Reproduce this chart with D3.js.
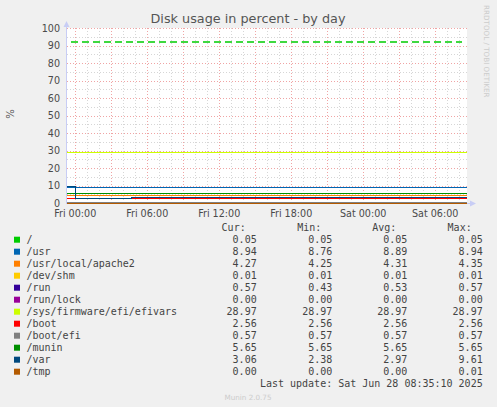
<!DOCTYPE html>
<html>
<head>
<meta charset="utf-8">
<script src="https://cdn.jsdelivr.net/npm/d3@7"></script>
<style>
  body { margin: 0; background: #f0f0f0; }
  svg { display: block; }
  .tick text { font-family: "DejaVu Sans", sans-serif; }
</style>
</head>
<body>
<div id="chart"></div>
<script>
// series names and colours (munin palette)
const seriesNames = ["/", "/usr", "/usr/local/apache2", "/dev/shm", "/run", "/run/lock",
    "/sys/firmware/efi/efivars", "/boot", "/boot/efi", "/munin", "/var", "/tmp"];
const seriesColors = ["#00CC00", "#0066B3", "#FF8000", "#FFCC00", "#330099", "#990099",
    "#CCFF00", "#FF0000", "#808080", "#008F00", "#00487D", "#B35A00"];

// legend numbers
const curVals = ["0.05", "8.94", "4.27", "0.01", "0.57", "0.00", "28.97", "2.56", "0.57", "5.65", "3.06", "0.00"];
const minVals = ["0.05", "8.76", "4.25", "0.01", "0.43", "0.00", "28.97", "2.56", "0.57", "5.65", "2.38", "0.00"];
const avgVals = ["0.05", "8.89", "4.31", "0.01", "0.53", "0.00", "28.97", "2.56", "0.57", "5.65", "2.97", "0.00"];
const maxVals = ["0.05", "8.94", "4.35", "0.01", "0.57", "0.00", "28.97", "2.56", "0.57", "5.65", "9.61", "0.01"];

// time window of the graph
const startTime = new Date(2025, 5, 26, 23, 21, 30);
const endTime = new Date(2025, 5, 28, 8, 41, 30);

// step changes per series: [time, value] (value holds until next change)
const steps = [
    [[startTime, 0.05]],
    [[startTime, 8.76], [new Date(2025, 5, 27, 8, 56), 8.94]],
    [[startTime, 4.35], [new Date(2025, 5, 28, 0, 0), 4.27]],
    [[startTime, 0.01]],
    [[startTime, 0.43], [new Date(2025, 5, 27, 9, 0), 0.57]],
    [[startTime, 0.00]],
    [[startTime, 28.97]],
    [[startTime, 2.56]],
    [[startTime, 0.57]],
    [[startTime, 5.65]],
    [[startTime, 9.61], [new Date(2025, 5, 27, 0, 5), 2.38], [new Date(2025, 5, 27, 4, 45), 3.06]],
    [[startTime, 0.00]]
];

// warning threshold line
const warnLevel = 92;

const yTicks = d3.range(0, 101, 10);
const yMinorTicks = d3.range(0, 101, 5);

const W = 497, H = 407;
const margin = {left: 67, top: 28, right: 30, bottom: 204};
const plotW = 400, plotH = 175;

const svg = d3.select("#chart").append("svg")
    .attr("width", W)
    .attr("height", H);

svg.append("rect").attr("width", W).attr("height", H).attr("fill", "#f0f0f0");

const g = svg.append("g")
    .attr("transform", `translate(${margin.left}, ${margin.top})`);

const x = d3.scaleTime().domain([startTime, endTime]).range([0, plotW]);
const y = d3.scaleLinear().domain([0, 100]).range([plotH, 0]);

// plot background
g.append("rect")
    .attr("width", plotW)
    .attr("height", plotH)
    .attr("fill", "#ffffff");

// minor grid
g.append("g")
    .attr("class", "grid minor")
    .attr("transform", `translate(0, ${plotH})`)
    .call(d3.axisBottom(x).ticks(d3.timeHour.every(1)).tickSize(-plotH).tickFormat(""));
g.append("g")
    .attr("class", "grid minor")
    .call(d3.axisLeft(y).tickValues(yMinorTicks).tickSize(-plotW).tickFormat(""));

// major grid
g.append("g")
    .attr("class", "grid major")
    .attr("transform", `translate(0, ${plotH})`)
    .call(d3.axisBottom(x).ticks(d3.timeHour.every(3)).tickSize(-plotH).tickFormat(""));
g.append("g")
    .attr("class", "grid major")
    .call(d3.axisLeft(y).tickValues(yTicks).tickSize(-plotW).tickFormat(""));

g.selectAll(".grid .domain").remove();
g.selectAll(".grid.minor line")
    .attr("stroke", "#d6d6d6")
    .attr("stroke-dasharray", "1,2")
    .attr("shape-rendering", "crispEdges");
g.selectAll(".grid.major line")
    .attr("stroke", "#f0a4a4")
    .attr("stroke-dasharray", "1,2")
    .attr("shape-rendering", "crispEdges");

// axis labels
const xAxis = g.append("g")
    .attr("transform", `translate(0, ${plotH})`)
    .call(d3.axisBottom(x).ticks(d3.timeHour.every(6)).tickSize(0).tickPadding(7)
        .tickFormat(d3.timeFormat("%a %H:%M")));
const yAxis = g.append("g")
    .call(d3.axisLeft(y).tickValues(yTicks).tickSize(0).tickPadding(7));
xAxis.select(".domain").remove();
yAxis.select(".domain").remove();
svg.selectAll(".tick text")
    .attr("fill", "#4a4a4a")
    .style("font-size", "9.6px");

// axis lines with arrows
const axisColor = "#c8cdf5";
g.append("line")
    .attr("x1", -0.5).attr("x2", -0.5)
    .attr("y1", plotH + 1).attr("y2", -4)
    .attr("stroke", axisColor);
g.append("path")
    .attr("d", `M-3.5,-1 L2.5,-1 L-0.5,-7 Z`)
    .attr("fill", axisColor);
g.append("line")
    .attr("x1", -1).attr("x2", plotW + 5)
    .attr("y1", plotH + 0.5).attr("y2", plotH + 0.5)
    .attr("stroke", axisColor);
g.append("path")
    .attr("d", `M${plotW + 3},${plotH - 2.5} L${plotW + 3},${plotH + 3.5} L${plotW + 9},${plotH + 0.5} Z`)
    .attr("fill", axisColor);

// warning line
g.append("line")
    .attr("x1", x(startTime) + 4).attr("x2", x(endTime) - 5)
    .attr("y1", y(warnLevel)).attr("y2", y(warnLevel))
    .attr("stroke", "#00CC00")
    .attr("stroke-width", 1.5)
    .attr("stroke-dasharray", "7,4");

// data lines
const line = d3.line()
    .x(d => x(d[0]))
    .y(d => y(d[1]))
    .curve(d3.curveStepAfter);

steps.forEach((s, i) => {
    const pts = s.concat([[endTime, s[s.length - 1][1]]]);
    g.append("path")
        .datum(pts)
        .attr("fill", "none")
        .attr("stroke", seriesColors[i])
        .attr("stroke-width", 1)
        .attr("shape-rendering", "crispEdges")
        .attr("d", line);
});

// title
svg.append("text")
    .attr("x", 248)
    .attr("y", 23)
    .attr("text-anchor", "middle")
    .attr("fill", "#555")
    .style("font-family", "DejaVu Sans, sans-serif")
    .style("font-size", "12.8px")
    .text("Disk usage in percent - by day");

// y label
svg.append("text")
    .attr("transform", "translate(14, 114) rotate(-90)")
    .attr("text-anchor", "middle")
    .attr("fill", "#555")
    .style("font-family", "DejaVu Sans, sans-serif")
    .style("font-size", "10px")
    .text("%");

// watermark
svg.append("text")
    .attr("transform", "translate(484, 5) rotate(90)")
    .attr("fill", "#cccccc")
    .style("font-family", "DejaVu Sans, sans-serif")
    .style("font-size", "7.2px")
    .text("RRDTOOL / TOBI OETIKER");

// legend
const mono = "DejaVu Sans Mono, monospace";
const colEnds = [256.7, 332.3, 407.3, 482.7];
const headers = ["Cur:", "Min:", "Avg:", "Max:"];
const legend = svg.append("g").attr("class", "legend");

headers.forEach((h, j) => {
    legend.append("text")
        .attr("x", colEnds[j] - 11)
        .attr("y", 231)
        .attr("text-anchor", "end")
        .attr("fill", "#444")
        .style("font-family", mono)
        .style("font-size", "10px")
        .text(h);
});

seriesNames.forEach((name, i) => {
    const cy = 239.7 + i * 12;
    legend.append("rect")
        .attr("x", 14).attr("y", cy - 3)
        .attr("width", 6).attr("height", 6)
        .attr("fill", seriesColors[i]);
    legend.append("text")
        .attr("x", 26.5).attr("y", cy + 3.5)
        .attr("fill", "#444")
        .style("font-family", mono)
        .style("font-size", "10px")
        .text(name);
    [curVals, minVals, avgVals, maxVals].forEach((arr, j) => {
        legend.append("text")
            .attr("x", colEnds[j]).attr("y", cy + 3.5)
            .attr("text-anchor", "end")
            .attr("fill", "#444")
            .style("font-family", mono)
            .style("font-size", "10px")
            .text(arr[i]);
    });
});

legend.append("text")
    .attr("x", 482.7).attr("y", 387)
    .attr("text-anchor", "end")
    .attr("fill", "#444")
    .style("font-family", mono)
    .style("font-size", "10px")
    .text("Last update: Sat Jun 28 08:35:10 2025");

svg.append("text")
    .attr("x", 248).attr("y", 400)
    .attr("text-anchor", "middle")
    .attr("fill", "#cccccc")
    .style("font-family", "DejaVu Sans, sans-serif")
    .style("font-size", "7.2px")
    .text("Munin 2.0.75");
</script>
</body>
</html>
